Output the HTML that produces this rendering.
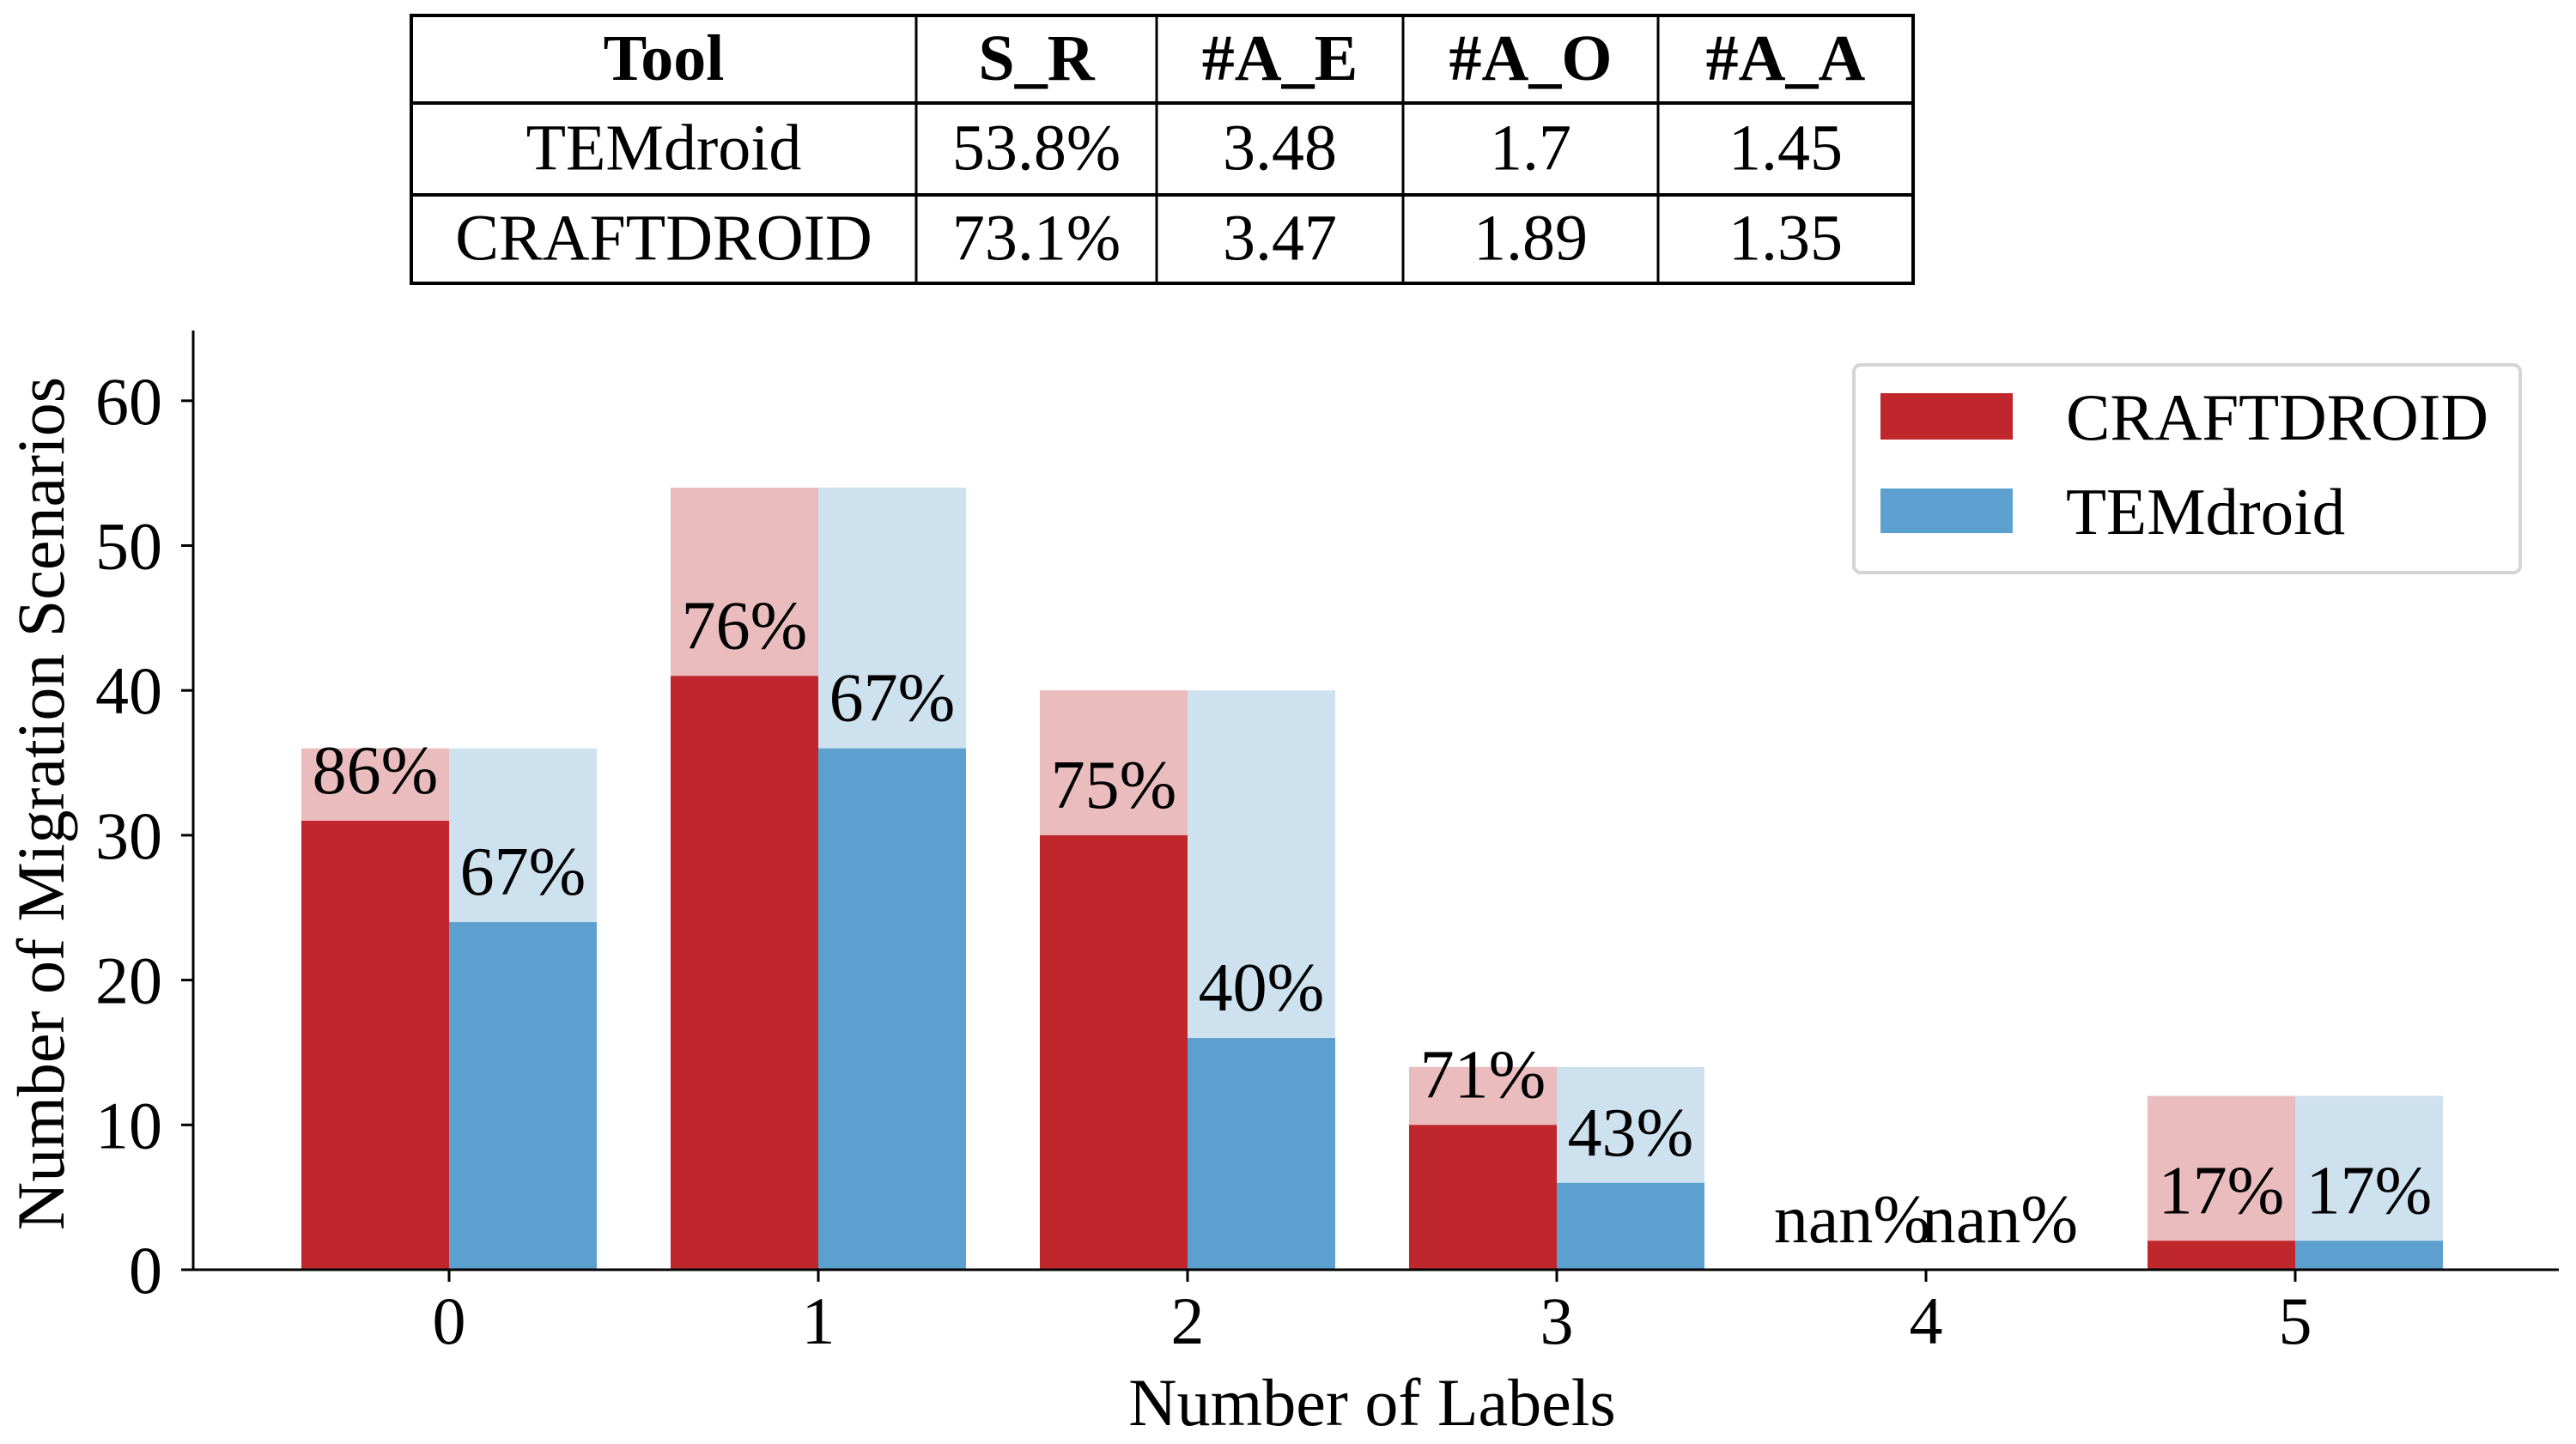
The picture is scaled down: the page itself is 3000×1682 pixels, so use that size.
<!DOCTYPE html>
<html><head><meta charset="utf-8"><style>
html,body{margin:0;padding:0;background:#fff;}
svg{display:block;font-family:"Liberation Serif",serif;}
</style></head><body>
<svg id="chart" width="3000" height="1682" viewBox="0 0 3000 1682">
<g id="table"></g>
<g id="plot"></g>
</svg>
<script>
const categories = [0,1,2,3,4,5];
const craftTotal = [36,54,40,14,0,12];
const craftSuccess = [31,41,30,10,0,2];
const temTotal = [36,54,40,14,0,12];
const temSuccess = [24,36,16,6,0,2];
const yTicks = [0,10,20,30,40,50,60];
const tableHeader = ["Tool","S_R","#A_E","#A_O","#A_A"];
const tableRows = [["TEMdroid","53.8%","3.48","1.7","1.45"],["CRAFTDROID","73.1%","3.47","1.89","1.35"]];

const NS="http://www.w3.org/2000/svg";
function mk(tag,attrs,parent,text){const e=document.createElementNS(NS,tag);for(const k in attrs)e.setAttribute(k,attrs[k]);if(text!==undefined)e.textContent=text;parent.appendChild(e);return e;}

// table
const tg=document.getElementById('table');
const colX=[479,1067,1347,1634,1931,2228];
const rowY=[18,120,227,330];
mk('rect',{x:479,y:18,width:1749,height:312,fill:'none',stroke:'#000','stroke-width':4},tg);
for(let i=1;i<5;i++){mk('line',{x1:colX[i],x2:colX[i],y1:18,y2:330,stroke:'#000','stroke-width':3},tg);}
for(let i=1;i<3;i++){mk('line',{x1:479,x2:2228,y1:rowY[i],y2:rowY[i],stroke:'#000','stroke-width':4},tg);}
const allRows=[tableHeader].concat(tableRows);
allRows.forEach((r,ri)=>{r.forEach((c,ci)=>{
 const t=mk('text',{x:(colX[ci]+colX[ci+1])/2,y:(rowY[ri]+rowY[ri+1])/2+24,'text-anchor':'middle','font-size':76,'font-weight':ri===0?'bold':'normal'},tg,c);
 
 
});});

// chart
const pg=document.getElementById('plot');
const x0=225,xEnd=2980,yBase=1479,yTop=385,unit=16.87,spacing=430,firstX=523,bw=172;
const X=i=>firstX+i*spacing;
const Y=v=>yBase-v*unit;
const cRed='#c0272d',cRedL='#ebbcbe',cBlue='#5ca0cf',cBlueL='#cee1ef';
categories.forEach((c,i)=>{
 const xr=X(i)-bw, xb=X(i);
 let r=mk('rect',{x:xr,y:Y(craftTotal[i]),width:bw,height:craftTotal[i]*unit,fill:cRedL},pg);
 
 
 r=mk('rect',{x:xr,y:Y(craftSuccess[i]),width:bw,height:craftSuccess[i]*unit,fill:cRed},pg);
 
 
 r=mk('rect',{x:xb,y:Y(temTotal[i]),width:bw,height:temTotal[i]*unit,fill:cBlueL},pg);
 
 
 r=mk('rect',{x:xb,y:Y(temSuccess[i]),width:bw,height:temSuccess[i]*unit,fill:cBlue},pg);
 
 
 const pc=(s,t)=>t===0?'nan%':Math.round(100*s/t)+'%';
 let t=mk('text',{x:xr+bw/2,y:Y(craftSuccess[i])-32,'text-anchor':'middle','font-size':80},pg,pc(craftSuccess[i],craftTotal[i]));
 
 
 t=mk('text',{x:xb+bw/2,y:Y(temSuccess[i])-32,'text-anchor':'middle','font-size':80},pg,pc(temSuccess[i],temTotal[i]));
 
 
 mk('line',{x1:X(i),x2:X(i),y1:yBase,y2:yBase+14,stroke:'#000','stroke-width':3},pg);
 t=mk('text',{x:X(i),y:yBase+86,'text-anchor':'middle','font-size':78},pg,String(c));
 
 
});
// axes
mk('line',{x1:x0,x2:x0,y1:yTop,y2:yBase+1.5,stroke:'#000','stroke-width':3},pg);
mk('line',{x1:x0-1.5,x2:xEnd,y1:yBase,y2:yBase,stroke:'#000','stroke-width':3},pg);
yTicks.forEach(v=>{
 mk('line',{x1:x0-14,x2:x0,y1:Y(v),y2:Y(v),stroke:'#000','stroke-width':3},pg);
 const t=mk('text',{x:x0-36,y:Y(v)+27,'text-anchor':'end','font-size':78},pg,String(v));
 
 
});
let t=mk('text',{x:1598,y:1660,'text-anchor':'middle','font-size':78},pg,'Number of Labels');


t=mk('text',{x:0,y:0,'text-anchor':'middle','font-size':78,transform:'translate(74,936) rotate(-90)'},pg,'Number of Migration Scenarios');


// legend
const lg=mk('g',{},pg);


mk('rect',{x:2159,y:425,width:776,height:242,rx:8,fill:'#fff',stroke:'#d5d5d5','stroke-width':4},lg);
mk('rect',{x:2190,y:458,width:154,height:54,fill:cRed},lg);
mk('rect',{x:2190,y:569,width:154,height:52,fill:cBlue},lg);
t=mk('text',{x:2406,y:512,'font-size':77},lg,'CRAFTDROID');


t=mk('text',{x:2406,y:622,'font-size':77},lg,'TEMdroid');


</script>
</body></html>
